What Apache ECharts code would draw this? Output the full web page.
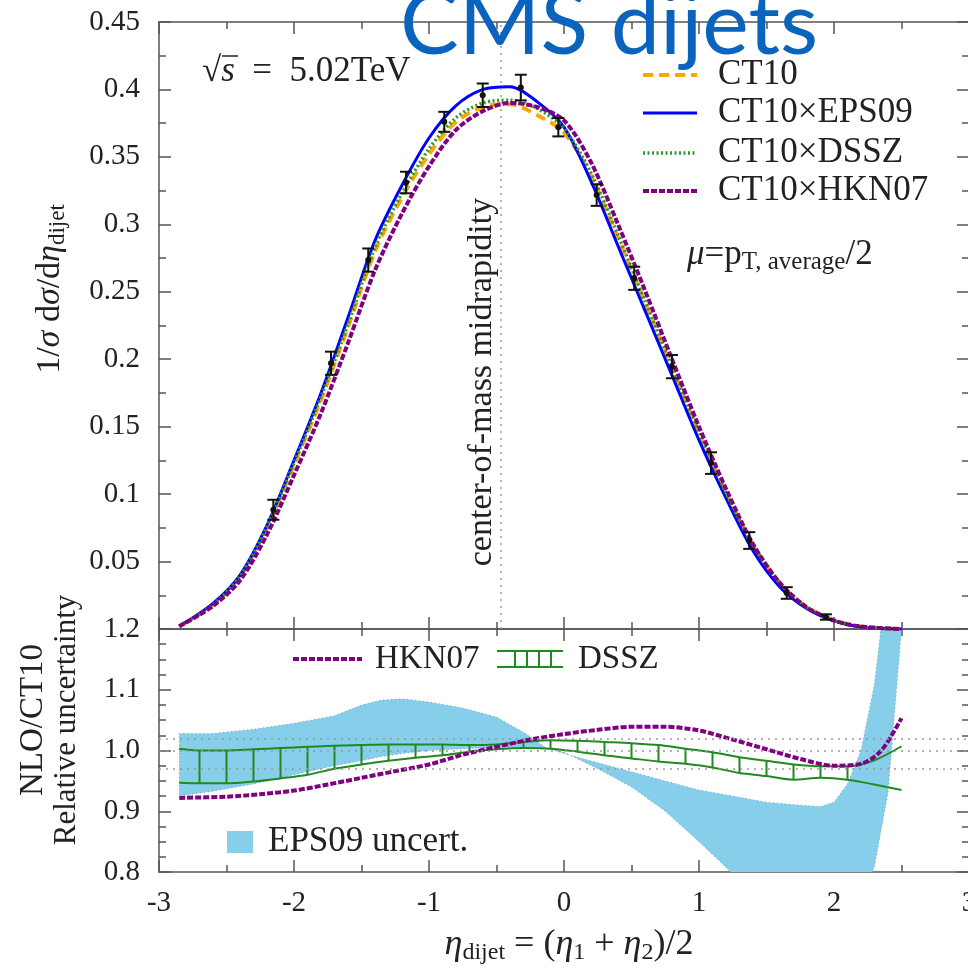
<!DOCTYPE html>
<html>
<head>
<meta charset="utf-8">
<script src="https://cdn.jsdelivr.net/npm/echarts@6/dist/echarts.min.js"></script>
<style>
html,body{margin:0;padding:0;background:#fff;}
#main{width:968px;height:968px;}
</style>
</head>
<body>
<div id="main"></div>
<script>
// top panel: normalised distributions
var curveX = [-2.85, -2.6, -2.4, -2.2, -2.0, -1.8, -1.6, -1.4, -1.2, -1.0, -0.8, -0.6, -0.4, -0.2, 0.0, 0.2, 0.4, 0.6, 0.8, 1.0, 1.2, 1.4, 1.6, 1.8, 2.0, 2.2, 2.5];
var ct10  = [0.002, 0.018, 0.039, 0.075, 0.122, 0.170, 0.224, 0.280, 0.320, 0.352, 0.376, 0.387, 0.389, 0.381, 0.368, 0.336, 0.290, 0.242, 0.193, 0.145, 0.101, 0.062, 0.034, 0.016, 0.0065, 0.0018, 0];
var eps09 = [0.002, 0.019, 0.040, 0.077, 0.125, 0.175, 0.231, 0.288, 0.329, 0.364, 0.388, 0.400, 0.402, 0.391, 0.372, 0.332, 0.284, 0.236, 0.188, 0.140, 0.097, 0.058, 0.031, 0.015, 0.006, 0.0015, 0];
var dssz  = [0.002, 0.018, 0.039, 0.076, 0.123, 0.172, 0.226, 0.283, 0.323, 0.356, 0.379, 0.390, 0.392, 0.386, 0.371, 0.338, 0.292, 0.243, 0.194, 0.146, 0.101, 0.062, 0.034, 0.016, 0.0063, 0.0017, 0];
var hkn07 = [0.002, 0.017, 0.036, 0.070, 0.114, 0.160, 0.212, 0.266, 0.308, 0.343, 0.370, 0.384, 0.390, 0.387, 0.377, 0.346, 0.300, 0.251, 0.200, 0.150, 0.104, 0.063, 0.034, 0.016, 0.0063, 0.0018, 0];

// CMS data points
var dataX   = [-2.153, -1.726, -1.45, -1.17, -0.887, -0.602, -0.32, -0.042, 0.242, 0.52, 0.80, 1.089, 1.372, 1.65, 1.94];
var dataY   = [0.0884, 0.197, 0.2735, 0.331, 0.376, 0.3957, 0.4014, 0.372, 0.3217, 0.26, 0.1945, 0.123, 0.0656, 0.0267, 0.0089];
var dataErr = [0.0074, 0.0086, 0.0086, 0.008, 0.0074, 0.0087, 0.0095, 0.0068, 0.008, 0.0086, 0.0086, 0.008, 0.0062, 0.0043, 0.002];

// bottom panel: ratios to CT10
var hknRX = [-2.85, -2.5, -2.25, -2.0, -1.75, -1.5, -1.25, -1.0, -0.75, -0.5, -0.25, 0.0, 0.25, 0.5, 0.75, 1.0, 1.25, 1.5, 1.75, 2.0, 2.2, 2.35, 2.5];
var hknR  = [0.922, 0.924, 0.928, 0.934, 0.944, 0.955, 0.966, 0.977, 0.993, 1.006, 1.018, 1.027, 1.034, 1.039, 1.039, 1.033, 1.018, 1.002, 0.986, 0.975, 0.978, 1.0, 1.053];

var dsszX  = [-2.85, -2.7, -2.5, -2.3, -2.1, -1.9, -1.7, -1.5, -1.3, -1.1, -0.9, -0.7, -0.5, -0.3, -0.1, 0.1, 0.3, 0.5, 0.7, 0.9, 1.1, 1.3, 1.5, 1.7, 1.9, 2.1, 2.3, 2.5];
var dsszUp = [1.003, 1.0, 1.0, 1.002, 1.004, 1.006, 1.008, 1.009, 1.01, 1.01, 1.01, 1.009, 1.01, 1.014, 1.017, 1.016, 1.014, 1.012, 1.009, 1.003, 0.997, 0.989, 0.983, 0.977, 0.974, 0.974, 0.984, 1.007];
var dsszLo = [0.947, 0.946, 0.946, 0.949, 0.954, 0.96, 0.97, 0.977, 0.983, 0.988, 0.992, 0.998, 1.002, 1.004, 1.003, 0.998, 0.992, 0.987, 0.982, 0.978, 0.972, 0.963, 0.958, 0.952, 0.955, 0.952, 0.944, 0.935];

// EPS09 uncertainty band, its two edges (they cross near -0.13)
var epsX = [-2.85, -2.6, -2.3, -2.0, -1.7, -1.5, -1.35, -1.2, -1.0, -0.75, -0.5, -0.3, -0.13, 0, 0.25, 0.5, 0.75, 1.0, 1.25, 1.5, 1.75, 1.9, 2.0, 2.1, 2.2, 2.3, 2.4, 2.5];
var epsA = [1.028, 1.028, 1.035, 1.045, 1.057, 1.075, 1.083, 1.085, 1.08, 1.07, 1.055, 1.03, 1.004, 0.997, 0.97, 0.94, 0.9, 0.85, 0.797, 0.76, 0.73, 0.72, 0.71, 0.72, 0.75, 0.81, 0.93, 1.2];
var epsB = [0.925, 0.933, 0.945, 0.96, 0.975, 0.983, 0.99, 0.995, 1.0, 1.003, 1.005, 1.005, 1.004, 0.995, 0.98, 0.965, 0.95, 0.935, 0.925, 0.915, 0.91, 0.908, 0.915, 0.945, 1.0, 1.11, 1.3, 1.5];

var cmRapidity = -0.465;
var refLevels = [1.025, 1.0, 0.975];

var SERIF = 'Liberation Serif';
var TXT = '#222';
var AXC = '#555';
var C_CT10 = '#ffa500', C_EPS = '#0000ff', C_DSSZ = '#2e9a2e', C_HKN = '#800080', C_BAND = '#87ceeb', C_DSSZ2 = '#1f8a1f';

function pairs(xs, ys) {
	return xs.map(function (x, i) { return [x, ys[i]]; });
}

function makeX(grid, pos, labels) {
	return {
		type: 'value', gridIndex: grid, position: pos, min: -3, max: 3, interval: 1,
		axisLine: {show: true, onZero: false, lineStyle: {color: AXC, width: 1.5}},
		axisTick: {show: true, inside: true, length: 12, lineStyle: {color: AXC, width: 1.5}},
		minorTick: {show: true, splitNumber: 2, length: 7, lineStyle: {color: AXC, width: 1.5}},
		splitLine: {show: false},
		axisLabel: {show: labels, margin: 17, color: TXT, fontFamily: SERIF, fontSize: 29,
			formatter: function (v) { return String(v); }}
	};
}
function makeY(grid, pos, min, max, step, minorSplit, labels, fmt) {
	return {
		type: 'value', gridIndex: grid, position: pos, min: min, max: max, interval: step,
		axisLine: {show: true, onZero: false, lineStyle: {color: AXC, width: 1.5}},
		axisTick: {show: true, inside: true, length: 12, lineStyle: {color: AXC, width: 1.5}},
		minorTick: {show: true, splitNumber: minorSplit, length: 7, lineStyle: {color: AXC, width: 1.5}},
		splitLine: {show: false},
		axisLabel: {show: labels, margin: 19, color: TXT, fontFamily: SERIF, fontSize: 29, formatter: fmt}
	};
}

//误差棒
function renderErr(params, api) {
	var x = api.value(0), y = api.value(1), e = api.value(2);
	var p = api.coord([x, y]);
	var hi = api.coord([x, y + e]);
	var lo = api.coord([x, y - e]);
	var cap = 6;
	var st = {stroke: '#111', lineWidth: 2};
	return {type: 'group', children: [
		{type: 'line', shape: {x1: p[0], y1: hi[1], x2: p[0], y2: lo[1]}, style: st},
		{type: 'line', shape: {x1: p[0] - cap, y1: hi[1], x2: p[0] + cap, y2: hi[1]}, style: st},
		{type: 'line', shape: {x1: p[0] - cap, y1: lo[1], x2: p[0] + cap, y2: lo[1]}, style: st},
		{type: 'circle', shape: {cx: p[0], cy: p[1], r: 3}, style: {fill: '#111'}}
	]};
}
// EPS09 band as one polygon
function renderBand(params, api) {
	if (params.dataIndex !== 0) return null;
	var pts = [], i;
	for (i = 0; i < epsX.length; i++) pts.push(api.coord([epsX[i], epsA[i]]));
	for (i = epsX.length - 1; i >= 0; i--) pts.push(api.coord([epsX[i], epsB[i]]));
	return {type: 'polygon', shape: {points: pts},
		style: {fill: C_BAND, stroke: 'rgba(70,110,140,0.55)', lineWidth: 1, lineDash: [1, 3]}};
}
// DSSZ hatches between the two band lines
function renderHatch(params, api) {
	var x = api.value(0);
	if (x < -2.8 || x > 2.2) return null;
	var a = api.coord([x, api.value(1)]);
	var b = api.coord([x, api.value(2)]);
	return {type: 'line', shape: {x1: a[0], y1: a[1], x2: b[0], y2: b[1]}, style: {stroke: C_DSSZ2, lineWidth: 2}};
}

function lineSeries(xi, yi, data, color, width, dash) {
	return {type: 'line', xAxisIndex: xi, yAxisIndex: yi, data: data, showSymbol: false, smooth: 0.3,
		clip: true, silent: true, lineStyle: {color: color, width: width, type: dash || 'solid'}, z: 3};
}

// helper for texts
function txt(x, y, rich, opt) {
	opt = opt || {};
	var fs = opt.size || 33;
	var el = {type: 'text', x: x, y: y, rotation: opt.rot || 0, silent: true,
		style: {text: rich, fill: opt.color || TXT, fontFamily: opt.family || SERIF, fontSize: fs,
			align: opt.align || 'left', verticalAlign: 'middle', textAlign: opt.align || 'left', textVerticalAlign: 'middle',
			rich: {
				n: {fontFamily: SERIF, fontSize: fs, lineHeight: fs + 4, fill: TXT},
				it: {fontFamily: SERIF, fontStyle: 'italic', fontSize: fs, lineHeight: fs + 4, fill: TXT},
				sub: {fontFamily: SERIF, fontSize: opt.sub || Math.round(fs * 0.68), lineHeight: Math.round(fs * 0.55), verticalAlign: 'bottom', fill: TXT}
			}}};
	return el;
}
function seg(x1, y1, x2, y2, color, width, dash) {
	return {type: 'line', silent: true, shape: {x1: x1, y1: y1, x2: x2, y2: y2},
		style: {stroke: color, lineWidth: width, lineDash: dash || null}};
}

var graphics = [
	// title
	{type: 'text', x: 400, y: 26, silent: true, z: 100,
		style: {text: 'CMS dijets', fill: '#0a64be', fontFamily: 'Lato', fontSize: 88,
			align: 'left', verticalAlign: 'middle', textAlign: 'left', textVerticalAlign: 'middle'}},
	txt(202, 72, '{n|√}{it|s}{n|  =  5.02TeV}', {size: 35}),
	seg(222, 56, 238, 56, TXT, 1.5),
	txt(687, 255, '{it|μ}{n|=p}{sub|T, average}{n|/2}', {size: 35, sub: 25}),
	txt(482, 382, 'center-of-mass midrapidity', {size: 34, rot: Math.PI / 2, align: 'center'}),
	txt(50, 289, '{n|1/}{it|σ}{n| d}{it|σ}{n|/d}{it|η}{sub|dijet}', {size: 34, rot: Math.PI / 2, align: 'center'}),
	txt(33, 720, 'NLO/CT10', {size: 33, rot: Math.PI / 2, align: 'center'}),
	txt(67, 720, 'Relative uncertainty', {size: 31, rot: Math.PI / 2, align: 'center'}),
	txt(569, 945, '{it|η}{sub|dijet}{n| = (}{it|η}{sub|1}{n| + }{it|η}{sub|2}{n|)/2}', {size: 36, align: 'center'}),
	// top legend
	seg(643, 75, 697, 75, C_CT10, 4, [10, 6]),
	txt(718, 75, 'CT10', {size: 35}),
	seg(643, 113, 697, 113, C_EPS, 3),
	txt(718, 113, 'CT10×EPS09', {size: 35}),
	seg(643, 153, 697, 153, C_DSSZ, 3.5, [2, 2.5]),
	txt(718, 153, 'CT10×DSSZ', {size: 35}),
	seg(643, 191, 697, 191, C_HKN, 4, [6, 2]),
	txt(718, 191, 'CT10×HKN07', {size: 35}),
	// bottom legend
	seg(293, 659, 362, 659, C_HKN, 4, [6, 2]),
	txt(375, 659, 'HKN07'),
	seg(497, 651, 563, 651, C_DSSZ2, 2),
	seg(497, 667, 563, 667, C_DSSZ2, 2),
	seg(515, 651, 515, 667, C_DSSZ2, 2),
	seg(527, 651, 527, 667, C_DSSZ2, 2),
	seg(539, 651, 539, 667, C_DSSZ2, 2),
	seg(551, 651, 551, 667, C_DSSZ2, 2),
	txt(578, 659, 'DSSZ'),
	{type: 'rect', silent: true, shape: {x: 227, y: 831, width: 26, height: 22}, style: {fill: C_BAND}},
	txt(268, 842, 'EPS09 uncert.', {size: 35})
];

var option = {
	animation: false,
	backgroundColor: '#fff',
	grid: [
		{left: 159, top: 22, width: 810, height: 607, containLabel: false, outerBoundsMode: 'none'},
		{left: 159, top: 629, width: 810, height: 243, containLabel: false, outerBoundsMode: 'none'}
	],
	xAxis: [makeX(0, 'bottom', false), makeX(0, 'top', false), makeX(1, 'bottom', true), makeX(1, 'top', false)],
	yAxis: [
		makeY(0, 'left', 0, 0.45, 0.05, 2, true, function (v) { return v === 0 ? '' : String(+v.toFixed(2)); }),
		makeY(0, 'right', 0, 0.45, 0.05, 2, false),
		makeY(1, 'left', 0.8, 1.2, 0.1, 4, true, function (v) { return v.toFixed(1); }),
		makeY(1, 'right', 0.8, 1.2, 0.1, 4, false)
	],
	series: [
		// bottom panel
		{type: 'custom', xAxisIndex: 2, yAxisIndex: 2, renderItem: renderBand, clip: true, silent: true, z: 1,
			encode: {x: 0, y: [1, 2]},
			data: epsX.map(function (x, i) { return [x, epsA[i], epsB[i]]; })},
		{type: 'line', xAxisIndex: 2, yAxisIndex: 2, data: [], silent: true, z: 2,
			markLine: {silent: true, symbol: 'none', label: {show: false},
				lineStyle: {color: '#999', width: 1.5, type: [2, 5]},
				data: refLevels.map(function (v) { return {yAxis: v}; })}},
		{type: 'custom', xAxisIndex: 2, yAxisIndex: 2, renderItem: renderHatch, silent: true, z: 3,
			encode: {x: 0, y: [1, 2]},
			data: dsszX.map(function (x, i) { return [x, dsszLo[i], dsszUp[i]]; })},
		lineSeries(2, 2, pairs(dsszX, dsszUp), C_DSSZ2, 2),
		lineSeries(2, 2, pairs(dsszX, dsszLo), C_DSSZ2, 2),
		lineSeries(2, 2, pairs(hknRX, hknR), C_HKN, 4, [6, 2]),
		// top panel
		{type: 'line', xAxisIndex: 0, yAxisIndex: 0, data: [], silent: true, z: 2,
			markLine: {silent: true, symbol: 'none', label: {show: false},
				lineStyle: {color: '#999', width: 1.5, type: [2, 5]},
				data: [{xAxis: cmRapidity}]}},
		lineSeries(0, 0, pairs(curveX, ct10), C_CT10, 4, [10, 6]),
		lineSeries(0, 0, pairs(curveX, eps09), C_EPS, 3),
		lineSeries(0, 0, pairs(curveX, dssz), C_DSSZ, 3.5, [2, 2.5]),
		lineSeries(0, 0, pairs(curveX, hkn07), C_HKN, 4, [6, 2]),
		{type: 'custom', xAxisIndex: 0, yAxisIndex: 0, renderItem: renderErr, silent: true, z: 5,
			encode: {x: 0, y: 1},
			data: dataX.map(function (x, i) { return [x, dataY[i], dataErr[i]]; })}
	],
	graphic: {elements: graphics}
};

var myChart = echarts.init(document.getElementById('main'), null, {renderer: 'canvas'});
myChart.setOption(option, true);
</script>
</body>
</html>
